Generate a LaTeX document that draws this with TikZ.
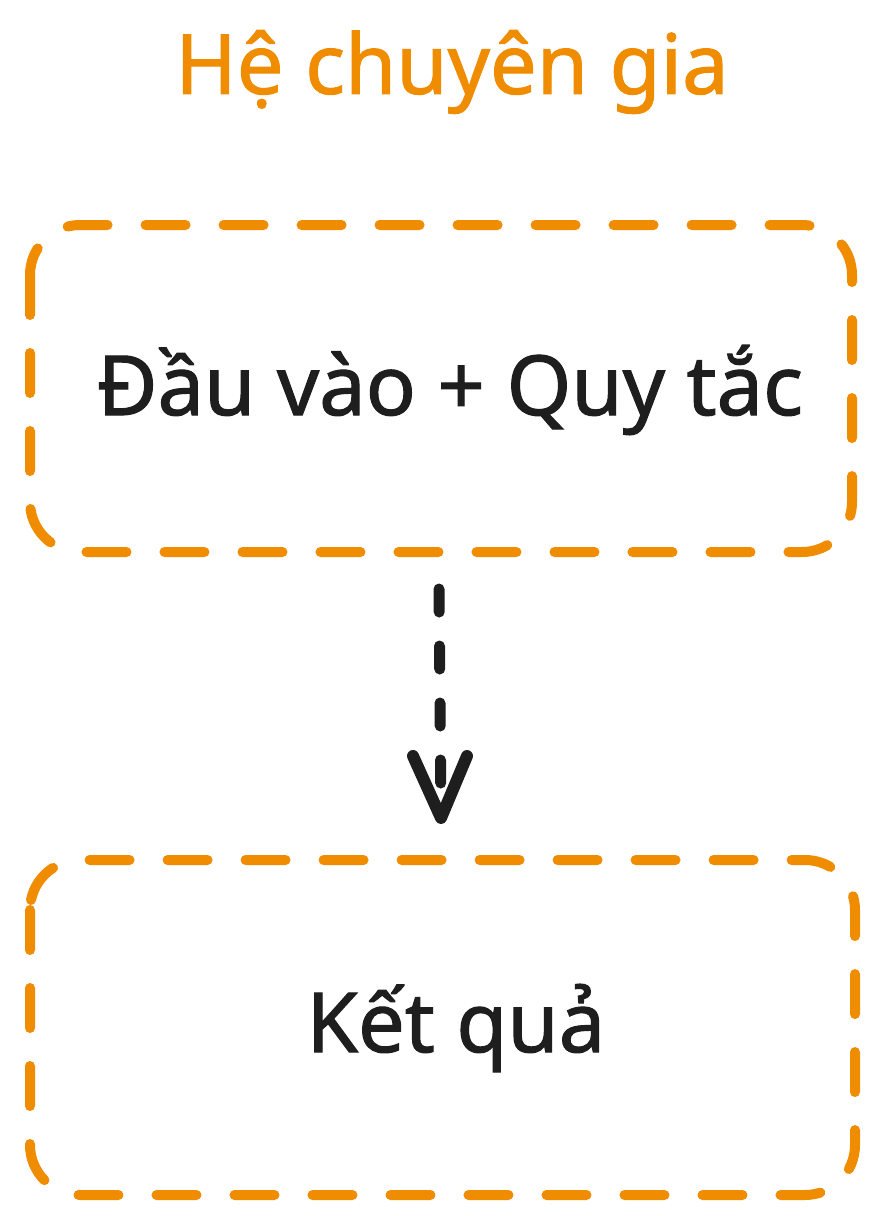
\documentclass[tikz,border=0pt]{standalone}
\usepackage{fontspec}
\setmainfont{Noto Sans}[FakeBold=1.3]
\definecolor{exorange}{HTML}{F08C00}
\definecolor{exink}{HTML}{1E1E1E}
\begin{document}
\begin{tikzpicture}[x=1pt,y=-1pt,
  boxstyle/.style={draw=exorange, line width=10pt, line cap=round, dash pattern=on 40pt off 38pt, rounded corners=50pt},
  labelstyle/.style={font=\fontsize{83}{90}\selectfont\bfseries, text=exink},
  titlestyle/.style={font=\fontsize{83}{90}\selectfont\bfseries, text=exorange},
  arrowstyle/.style={draw=exink, line width=11pt, line cap=round, dash pattern=on 23pt off 34pt},
  headstyle/.style={draw=exink, line width=12pt, line cap=round, line join=round}]
\useasboundingbox (0,0) rectangle (880,1216);
\fill[white] (0,0) rectangle (880,1216);
\node[titlestyle] (title) at (452,72) {Hệ chuyên gia};
\draw[boxstyle] (30,225) rectangle (852,552);
\node[labelstyle] (in) at (450,390) {Đầu vào + Quy tắc};
\draw[boxstyle] (30,860) rectangle (855,1195);
\node[labelstyle] (out) at (456,1028) {Kết quả};
\coordinate (a1) at (439,589);
\coordinate (a2) at (441,818);
\draw[arrowstyle] (a1) -- (a2);
\draw[headstyle] (413,756) -- (a2) -- (467,756);
\end{tikzpicture}
\end{document}
